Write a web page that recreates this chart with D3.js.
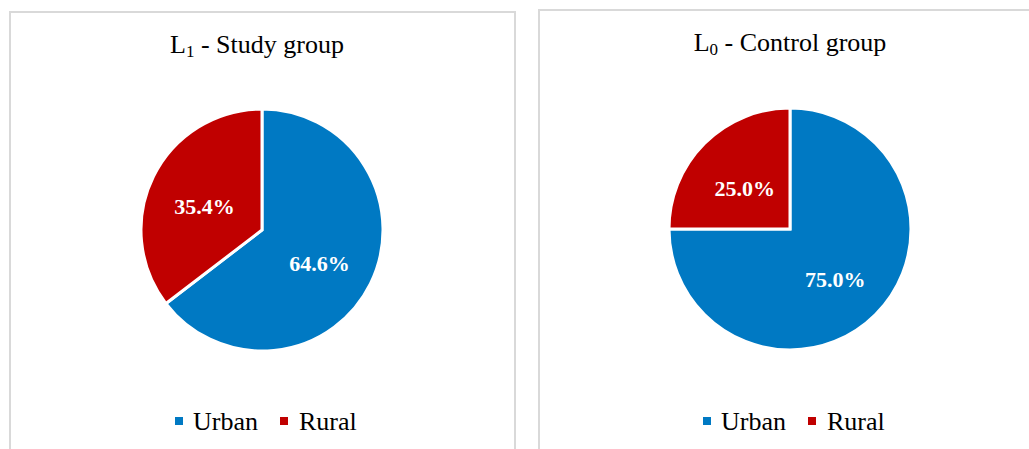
<!DOCTYPE html>
<html>
<head>
<meta charset="utf-8">
<script src="https://cdnjs.cloudflare.com/ajax/libs/d3/7.8.5/d3.min.js"></script>
<style>
  html, body { margin: 0; padding: 0; background: #fff; }
  svg { display: block; }
  text { font-family: "Liberation Serif", "Times New Roman", serif; }
</style>
</head>
<body>
<svg width="1029" height="449"></svg>
<script>
// chart data
var categories = ["Urban", "Rural"];
var studyValues = [64.6, 35.4];
var controlValues = [75.0, 25.0];
var titleMain = ["L", "L"];
var titleSub = ["1", "0"];
var titleRest = [" - Study group", " - Control group"];

var colors = ["#0079c3", "#c00000"];

var svg = d3.select("svg");

// panel layout
var panels = [
    { x: 10, y: 12, w: 505, h: 460, cx: 262, cy: 230, titleX: 257, values: studyValues },
    { x: 539, y: 10, w: 505, h: 460, cx: 790, cy: 229, titleX: 790, values: controlValues }
];

var radius = 121;

var pie = d3.pie().sort(null).value(function (d) { return d; });
var arc = d3.arc().innerRadius(0).outerRadius(radius);
var labelArc = d3.arc().innerRadius(radius * 0.53).outerRadius(radius * 0.53);
var color = d3.scaleOrdinal().domain(categories).range(colors);

panels.forEach(function (p, i) {
    // border
    svg.append("rect")
        .attr("x", p.x)
        .attr("y", p.y)
        .attr("width", p.w)
        .attr("height", p.h)
        .attr("fill", "#fff")
        .attr("stroke", "#d9d9d9")
        .attr("stroke-width", 2);

    // title
    var title = svg.append("text")
        .attr("x", p.titleX)
        .attr("y", p.y + 41)
        .attr("text-anchor", "middle")
        .attr("font-size", "26px")
        .attr("fill", "#000");
    title.append("tspan").text(titleMain[i]);
    title.append("tspan").attr("font-size", "17px").attr("dy", 4).text(titleSub[i]);
    title.append("tspan").attr("dy", -4).text(titleRest[i]);

    var g = svg.append("g")
        .attr("transform", "translate(" + p.cx + "," + p.cy + ")");

    var data = pie(p.values);

    g.selectAll("path")
        .data(data)
        .enter().append("path")
        .attr("d", arc)
        .attr("fill", function (d, j) { return color(categories[j]); })
        .attr("stroke", "#fff")
        .attr("stroke-width", 3)
        .attr("stroke-linejoin", "miter");

    g.selectAll(".lbl")
        .data(data)
        .enter().append("text")
        .attr("class", "lbl")
        .attr("transform", function (d) {
            var c = labelArc.centroid(d);
            return "translate(" + c[0] + "," + (c[1] + 5) + ")";
        })
        .attr("text-anchor", "middle")
        .attr("dy", "0.35em")
        .attr("font-size", "22px")
        .attr("font-weight", "bold")
        .attr("fill", "#fff")
        .text(function (d) { return d.value.toFixed(1) + "%"; });

    // legend
    var offsets = [[-87, -69], [18, 37]];
    var legend = svg.append("g");
    categories.forEach(function (c, j) {
        legend.append("rect")
            .attr("x", p.cx + offsets[j][0])
            .attr("y", 417)
            .attr("width", 8)
            .attr("height", 8)
            .attr("fill", color(c));
        legend.append("text")
            .attr("x", p.cx + offsets[j][1])
            .attr("y", 430)
            .attr("font-size", "26px")
            .attr("fill", "#000")
            .text(c);
    });
});
</script>
</body>
</html>
